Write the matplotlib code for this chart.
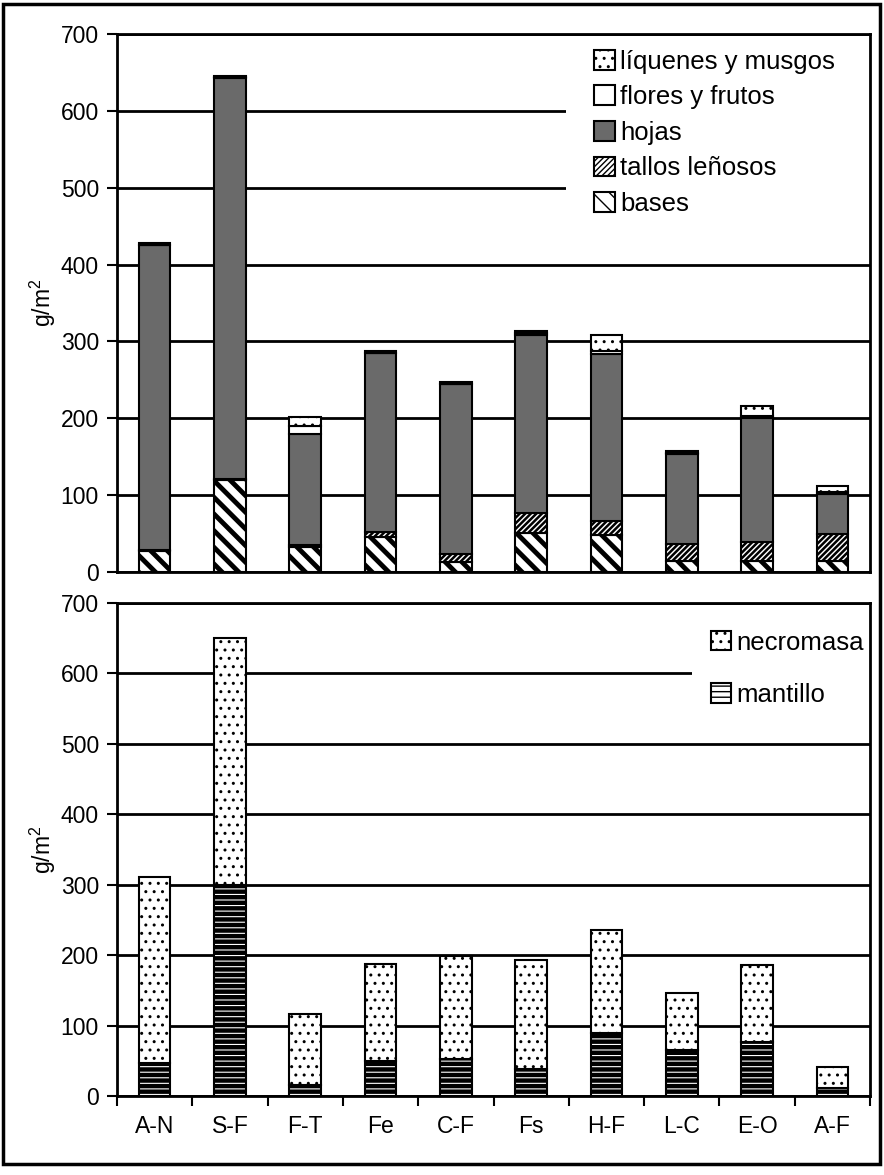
import numpy as np
import matplotlib
matplotlib.use("Agg")
import matplotlib.pyplot as plt
from matplotlib.patches import Rectangle

plt.rcParams['font.family'] = ['Liberation Sans', 'DejaVu Sans']

# datos
sitios = ['A-N', 'S-F', 'F-T', 'Fe', 'C-F', 'Fs', 'H-F', 'L-C', 'E-O', 'A-F']
bases = [27, 120, 33, 45, 13, 51, 48, 14, 14, 14]
tallos = [1, 1, 2, 7, 10, 26, 18, 22, 25, 35]
hojas = [397, 522, 145, 233, 222, 232, 218, 118, 161, 53]
flores = [1, 1, 10, 0, 0, 2, 3, 1, 3, 2]
liquenes = [2, 2, 12, 2, 2, 3, 22, 3, 13, 8]

mantillo = [47, 300, 16, 49, 52, 38, 89, 66, 76, 12]
necromasa = [264, 350, 101, 138, 147, 155, 147, 80, 110, 29]

x = np.arange(len(sitios))
ancho = 0.42
W, H = 884, 1175

fig = plt.figure(figsize=(W / 100, H / 100), dpi=100)
ax1 = fig.add_axes([117 / W, 1 - 572 / H, 753 / W, 538 / H])
ax2 = fig.add_axes([117 / W, 1 - 1096 / H, 753 / W, 493 / H])


def barra(ax, y, abajo, hatch, color, lw_hatch):
    with plt.rc_context({'hatch.linewidth': lw_hatch}):
        b = ax.bar(x, y, ancho, bottom=abajo, color=color, edgecolor='black',
                   linewidth=1.5, hatch=hatch, zorder=3)
    for p in b:
        if hasattr(p, 'set_hatch_linewidth'):
            p.set_hatch_linewidth(lw_hatch)
    return b


def ejes(ax):
    ax.set_xlim(-0.5, len(sitios) - 0.5)
    ax.set_ylim(0, 700)
    ax.set_yticks(range(0, 701, 100))
    ax.yaxis.grid(True, color='black', linewidth=2)
    ax.set_axisbelow(True)
    for s in ax.spines.values():
        s.set_linewidth(2)
        s.set_zorder(4)
    ax.tick_params(axis='y', labelsize=16.5, length=7, width=1.5, direction='out', pad=6)
    ax.set_ylabel('$\\mathregular{g/m^2}$', fontsize=16.5, labelpad=2)


# panel superior
abajo = np.zeros(len(sitios))
b_bases = barra(ax1, bases, abajo, '\\\\', 'white', 3.5)
abajo = abajo + bases
b_tallos = barra(ax1, tallos, abajo, '//////', 'white', 1.8)
abajo = abajo + tallos
b_hojas = barra(ax1, hojas, abajo, None, '#6a6a6a', 1)
abajo = abajo + hojas
b_flores = barra(ax1, flores, abajo, None, 'white', 1)
abajo = abajo + flores
b_liq = barra(ax1, liquenes, abajo, '..', 'white', 1)

ejes(ax1)
ax1.set_xticks([])
ax1.add_patch(Rectangle((0.596, 0.63), 0.42, 0.36, transform=ax1.transAxes,
                        facecolor='white', edgecolor='none', zorder=2))
ax1.legend([b_liq, b_flores, b_hojas, b_tallos, b_bases],
           ['líquenes y musgos', 'flores y frutos', 'hojas', 'tallos leñosos', 'bases'],
           loc='upper left', bbox_to_anchor=(0.62, 0.99), frameon=False,
           fontsize=18.5, handlelength=0.8, handleheight=0.8, handletextpad=0.2,
           labelspacing=0.45, borderaxespad=0)

# panel inferior
b_mant = barra(ax2, mantillo, 0, '---', 'white', 3.2)
b_necro = barra(ax2, necromasa, mantillo, '..', 'white', 1)

ejes(ax2)
ax2.set_xticks(x)
ax2.set_xticklabels(sitios, fontsize=16.5)
ax2.set_xticks(np.arange(-0.5, len(sitios), 1), minor=True)
ax2.tick_params(axis='x', which='major', length=0, pad=14)
ax2.tick_params(axis='x', which='minor', length=7, width=1.5)
ax2.add_patch(Rectangle((0.764, 0.76), 0.25, 0.23, transform=ax2.transAxes,
                        facecolor='white', edgecolor='none', zorder=2))
ax2.legend([b_necro, b_mant], ['necromasa', 'mantillo'],
           loc='upper left', bbox_to_anchor=(0.775, 0.965), frameon=False,
           fontsize=18.5, handlelength=0.8, handleheight=0.8, handletextpad=0.2,
           labelspacing=1.1, borderaxespad=0)

# marco exterior
fig.add_artist(Rectangle((3 / W, 1 - 1164 / H), 877 / W, 1160 / H,
                         transform=fig.transFigure, facecolor='none',
                         edgecolor='black', linewidth=2.5))

fig.savefig('out.png', dpi=100)
